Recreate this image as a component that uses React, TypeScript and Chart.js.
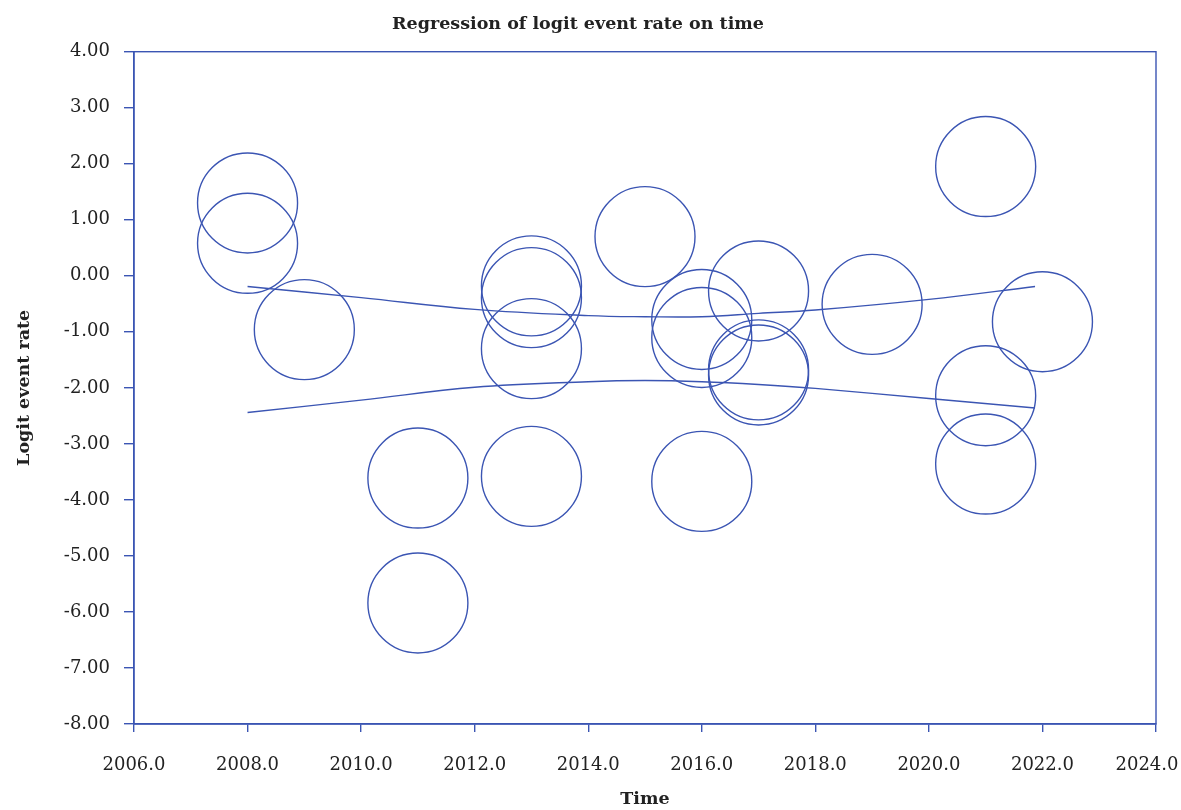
import React, { useEffect, useRef } from "react";
import { Chart, registerables } from "chart.js";

Chart.register(...registerables);

// Study years and their logit event rates (one circle per study)
const studyYears = [2008, 2008, 2009, 2011, 2011, 2013, 2013, 2013, 2013, 2015, 2016, 2016, 2016, 2017, 2017, 2017, 2019, 2021, 2021, 2021, 2022];
const logitRates = [1.30, 0.58, -0.96, -3.61, -5.84, -0.18, -0.39, -1.30, -3.58, 0.70, -0.78, -1.10, -3.67, -0.27, -1.68, -1.77, -0.51, 1.95, -2.14, -3.36, -0.82];

// Confidence band around the fitted regression line
const bandYears = [2008, 2010, 2012, 2014, 2015, 2016, 2017, 2018, 2020, 2021.87];
const upperBound = [-0.19, -0.39, -0.60, -0.71, -0.73, -0.73, -0.67, -0.61, -0.42, -0.19];
const lowerBound = [-2.44, -2.22, -1.99, -1.89, -1.87, -1.89, -1.94, -2.01, -2.19, -2.36];

const xTicks = [2006, 2008, 2010, 2012, 2014, 2016, 2018, 2020, 2022, 2024];
const yTicks = [4, 3, 2, 1, 0, -1, -2, -3, -4, -5, -6, -7, -8];

const BLUE = "#3b55b3";
const INK = "#222222";
const FONT = "'DejaVu Serif', serif";
const BUBBLE_RADIUS = 50;
const LINE_W = 1.4;

// Closes the plot box along the top and right edges
const frame = {
  id: "plotFrame",
  afterDraw(chart: any) {
    const { ctx, chartArea } = chart;
    ctx.save();
    ctx.strokeStyle = BLUE;
    ctx.lineWidth = LINE_W;
    ctx.strokeRect(chartArea.left, chartArea.top, chartArea.right - chartArea.left, chartArea.bottom - chartArea.top);
    ctx.restore();
  },
};

const noSidePadding = (scale: any) => {
  scale.paddingRight = 0;
  scale.paddingLeft = 0;
};

export default function App() {
  const canvasRef = useRef<HTMLCanvasElement | null>(null);

  useEffect(() => {
    document.body.style.margin = "0";
    const canvas = canvasRef.current;
    if (!canvas) return;

    const bubbles = studyYears.map((year, i) => ({ x: year, y: logitRates[i], r: BUBBLE_RADIUS }));
    const upper = bandYears.map((year, i) => ({ x: year, y: upperBound[i] }));
    const lower = bandYears.map((year, i) => ({ x: year, y: lowerBound[i] }));

    const chart = new Chart(canvas, {
      type: "bubble",
      data: {
        datasets: [
          {
            type: "bubble",
            data: bubbles,
            backgroundColor: "rgba(0,0,0,0)",
            borderColor: BLUE,
            borderWidth: LINE_W,
          } as any,
          {
            type: "line",
            data: upper,
            borderColor: BLUE,
            borderWidth: LINE_W,
            pointRadius: 0,
            fill: false,
            tension: 0.4,
          } as any,
          {
            type: "line",
            data: lower,
            borderColor: BLUE,
            borderWidth: LINE_W,
            pointRadius: 0,
            fill: false,
            tension: 0.4,
          } as any,
        ],
      },
      options: {
        animation: false,
        responsive: false,
        layout: { autoPadding: false, padding: { left: 0, right: 25, top: 0, bottom: 0 } },
        plugins: {
          legend: { display: false },
          tooltip: { enabled: false },
          title: {
            display: true,
            text: "Regression of logit event rate on time",
            color: INK,
            font: { family: FONT, size: 17.5, weight: "bold" },
            padding: { top: 14, bottom: 16.7 },
          },
        },
        scales: {
          x: {
            type: "linear",
            min: 2006,
            max: 2024,
            afterBuildTicks: (scale: any) => {
              scale.ticks = xTicks.map((v) => ({ value: v }));
            },
            afterFit: (scale: any) => {
              scale.height = 86;
              noSidePadding(scale);
            },
            afterUpdate: noSidePadding,
            ticks: {
              color: INK,
              font: { family: FONT, size: 18 },
              padding: 23,
              maxRotation: 0,
              autoSkip: false,
              callback: (v: any) => (v === 2024 ? Number(v).toFixed(1) + "\u2003" : Number(v).toFixed(1)),
            },
            grid: {
              drawOnChartArea: false,
              drawTicks: true,
              tickLength: 8,
              color: BLUE,
              lineWidth: LINE_W,
            },
            border: { display: true, color: BLUE, width: LINE_W },
            title: {
              display: true,
              text: "Time",
              color: INK,
              font: { family: FONT, size: 17.5, weight: "bold" },
              padding: { top: 0, bottom: 0 },
            },
          },
          y: {
            type: "linear",
            min: -8,
            max: 4,
            afterBuildTicks: (scale: any) => {
              scale.ticks = yTicks.map((v) => ({ value: v }));
            },
            afterFit: (scale: any) => {
              scale.width = 134;
            },
            ticks: {
              color: INK,
              font: { family: FONT, size: 18 },
              padding: 14,
              autoSkip: false,
              callback: (v: any) => Number(v).toFixed(2),
            },
            grid: {
              drawOnChartArea: false,
              drawTicks: true,
              tickLength: 10,
              color: BLUE,
              lineWidth: LINE_W,
            },
            border: { display: true, color: BLUE, width: LINE_W },
            title: {
              display: true,
              text: "Logit event rate",
              color: INK,
              font: { family: FONT, size: 17.5, weight: "bold" },
              padding: { top: 14, bottom: 0 },
            },
          },
        },
      },
      plugins: [frame],
    });

    return () => chart.destroy();
  }, []);

  return (
    <div style={{ width: 1181, height: 810, background: "#ffffff" }}>
      <canvas ref={canvasRef} width={1181} height={810} style={{ display: "block" }} />
    </div>
  );
}
